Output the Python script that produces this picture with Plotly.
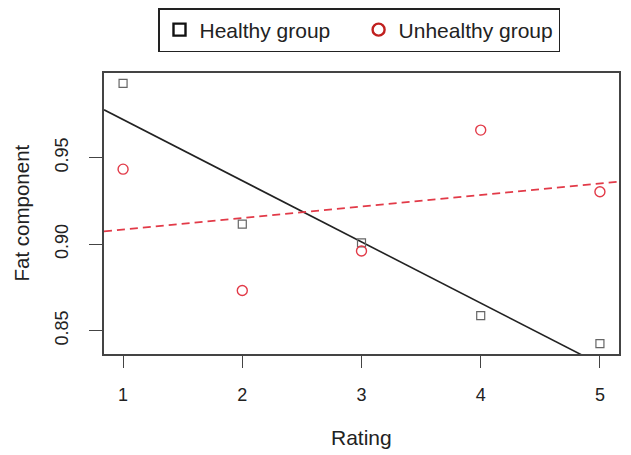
import numpy as np
import plotly.graph_objects as go

ratings = [1, 2, 3, 4, 5]
healthy = [0.993, 0.9116, 0.9008, 0.8587, 0.8425]
unhealthy = [0.9434, 0.8732, 0.8961, 0.966, 0.9303]
x_ticks = [1, 2, 3, 4, 5]
y_ticks = [0.85, 0.90, 0.95]

# R-style 4% axis extension
def ext(vals):
    lo, hi = min(vals), max(vals)
    d = (hi - lo) * 0.04
    return [lo - d, hi + d]

xr = ext(ratings)
yr = ext(healthy + unhealthy)

red = "#e23a48"
fig = go.Figure()

# regression lines across full x-range
for ys, col, dash in [(healthy, "#222222", "solid"), (unhealthy, red, "8px,5px")]:
    m, b = np.polyfit(ratings, ys, 1)
    xs = np.array(xr)
    fig.add_trace(go.Scatter(x=xs, y=m * xs + b, mode="lines", showlegend=False,
                             line=dict(color=col, width=1.6, dash=dash), hoverinfo="skip"))

fig.add_trace(go.Scatter(x=ratings, y=healthy, mode="markers", showlegend=False,
                         marker=dict(symbol="square-open", size=8, color="#666666",
                                     line=dict(width=1.2))))
fig.add_trace(go.Scatter(x=ratings, y=unhealthy, mode="markers", showlegend=False,
                         marker=dict(symbol="circle-open", size=10, color=red,
                                     line=dict(width=1.4))))

# legend entries
NB = "\u00a0"
fig.add_trace(go.Scatter(x=[None], y=[None], mode="markers", name="Healthy group" + NB * 4,
                         marker=dict(symbol="square-open", size=12, color="#111111",
                                     line=dict(width=2.4))))
fig.add_trace(go.Scatter(x=[None], y=[None], mode="markers", name="Unhealthy group",
                         marker=dict(symbol="circle-open", size=12, color="#c0201f",
                                     line=dict(width=2.4))))

# page has an 8px body margin; figure sized to fit the 631x455 window
W, H = 623, 447
L, R, T, B = 96, 12, 65, 101
pw, ph = W - L - R, H - T - B

fig.update_layout(
    width=W, height=H,
    margin=dict(l=L, r=R, t=T, b=B),
    paper_bgcolor="white", plot_bgcolor="white",
    font=dict(family="Liberation Sans, Arial, sans-serif", size=18, color="#222222"),
    legend=dict(orientation="h", x=(359 - 8) / W, xanchor="center", xref="container",
                y=1, yanchor="top", yref="container",
                bordercolor="#222222", borderwidth=1.5, font=dict(size=21),
                itemwidth=30, tracegroupgap=0, bgcolor="white"),
    xaxis=dict(range=xr, tickvals=x_ticks, ticks="outside", ticklen=12, tickwidth=1.2,
               tickcolor="#444444", showgrid=False, zeroline=False, automargin=False,
               showline=True, linecolor="#444444", linewidth=1.5, mirror=True,
               ticklabelstandoff=12, tickfont=dict(size=18)),
    yaxis=dict(range=yr, tickvals=y_ticks, tickformat=".2f", ticks="outside", ticklen=13,
               tickwidth=1.2, tickcolor="#444444", tickangle=-90, showgrid=False,
               zeroline=False, showline=True, linecolor="#444444", linewidth=1.5,
               mirror=True, automargin=False, ticklabelstandoff=14,
               tickfont=dict(size=18)),
    annotations=[
        dict(text="Rating", x=0.5, xref="paper", y=-(437 - 8 - (H - B)) / ph, yref="paper",
             xanchor="center", yanchor="middle", showarrow=False, font=dict(size=21)),
        dict(text="Fat component", x=-(L - (21 - 8)) / pw, xref="paper", y=0.5, yref="paper",
             xanchor="center", yanchor="middle", textangle=-90, showarrow=False,
             borderpad=0, font=dict(size=20.5)),
    ],
)

fig.write_html("out.html")
